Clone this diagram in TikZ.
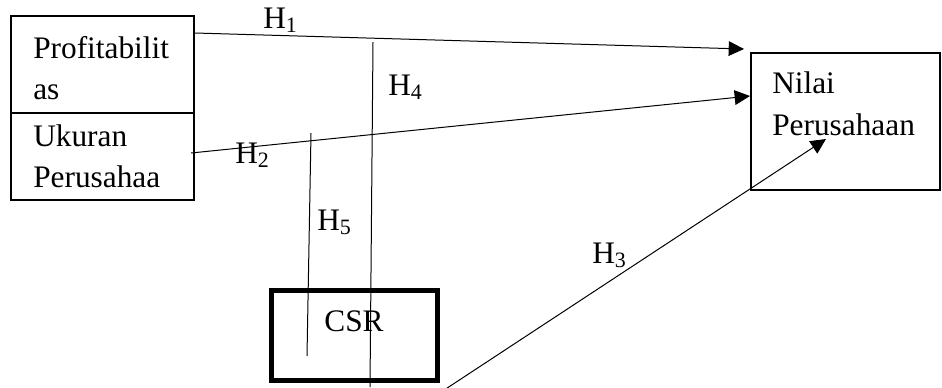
\documentclass[tikz,border=0pt]{standalone}
\usepackage{fontspec}
\setmainfont{Liberation Serif}
\usetikzlibrary{arrows.meta,calc}
\begin{document}
\begin{tikzpicture}[x=0.75pt,y=-0.75pt,
  box/.style={draw, line width=1.5pt, inner sep=0},
  thickbox/.style={draw, line width=3.4pt, inner sep=0},
  txt/.style={anchor=base west, inner sep=0, font=\fontsize{23.5}{28}\selectfont},
  conn/.style={line width=0.75pt},
  arr/.style={conn, -{Triangle[length=11.5pt,width=11pt]}}]
\useasboundingbox (0,0) rectangle (942,387);
% boxes
\node[box, minimum width=137.25pt, minimum height=72.75pt] (prof) at (102.5,64.5) {};
\node[box, minimum width=137.25pt, minimum height=65.25pt] (uk) at (102.5,156.5) {};
\node[box, minimum width=141.75pt, minimum height=102.75pt] (nil) at (845.5,121.5) {};
\node[thickbox, minimum width=124.5pt, minimum height=67.5pt] (csr) at (354.5,335.5) {};
% texts
\node[txt] (prof1) at (33,58) {Profitabilit};
\node[txt] (prof2) at (33,99) {as};
\node[txt] (uk1) at (33,146) {Ukuran};
\node[txt] (uk2) at (33,187) {Perusahaa};
\node[txt] (nil1) at (772,93) {Nilai};
\node[txt] (nil2) at (772,135) {Perusahaan};
\node[txt, anchor=base] (csrT) at (354,331) {CSR};
% connector ends
\coordinate (h1a) at ($(prof.north east)+(0,18)$);
\coordinate (h1b) at ($(nil.north west)+(-6,-3)$);
\coordinate (h2a) at ($(uk.east)+(-4,-3.5)$);
\coordinate (h2b) at ($(nil.north west)+(0,44)$);
\coordinate (h3a) at ($(csr.south east)+(5.5,6.5)$);
\coordinate (h3b) at (826,139);
\coordinate (h4a) at (373,42);
\coordinate (h4b) at (370,387);
\coordinate (h5a) at (311,133);
\coordinate (h5b) at (307,356);
% connectors
\draw[arr] (h1a) -- (h1b);
\draw[arr] (h2a) -- (h2b);
\draw[arr] (h3a) -- (h3b);
\draw[conn] (h4a) -- (h4b);
\draw[conn] (h5a) -- (h5b);
% labels
\node[txt] (L1) at (263,28) {H\textsubscript{1}};
\node[txt] (L2) at (235,163) {H\textsubscript{2}};
\node[txt] (L3) at (592,263) {H\textsubscript{3}};
\node[txt] (L4) at (388,95) {H\textsubscript{4}};
\node[txt] (L5) at (317,230) {H\textsubscript{5}};
\end{tikzpicture}
\end{document}
